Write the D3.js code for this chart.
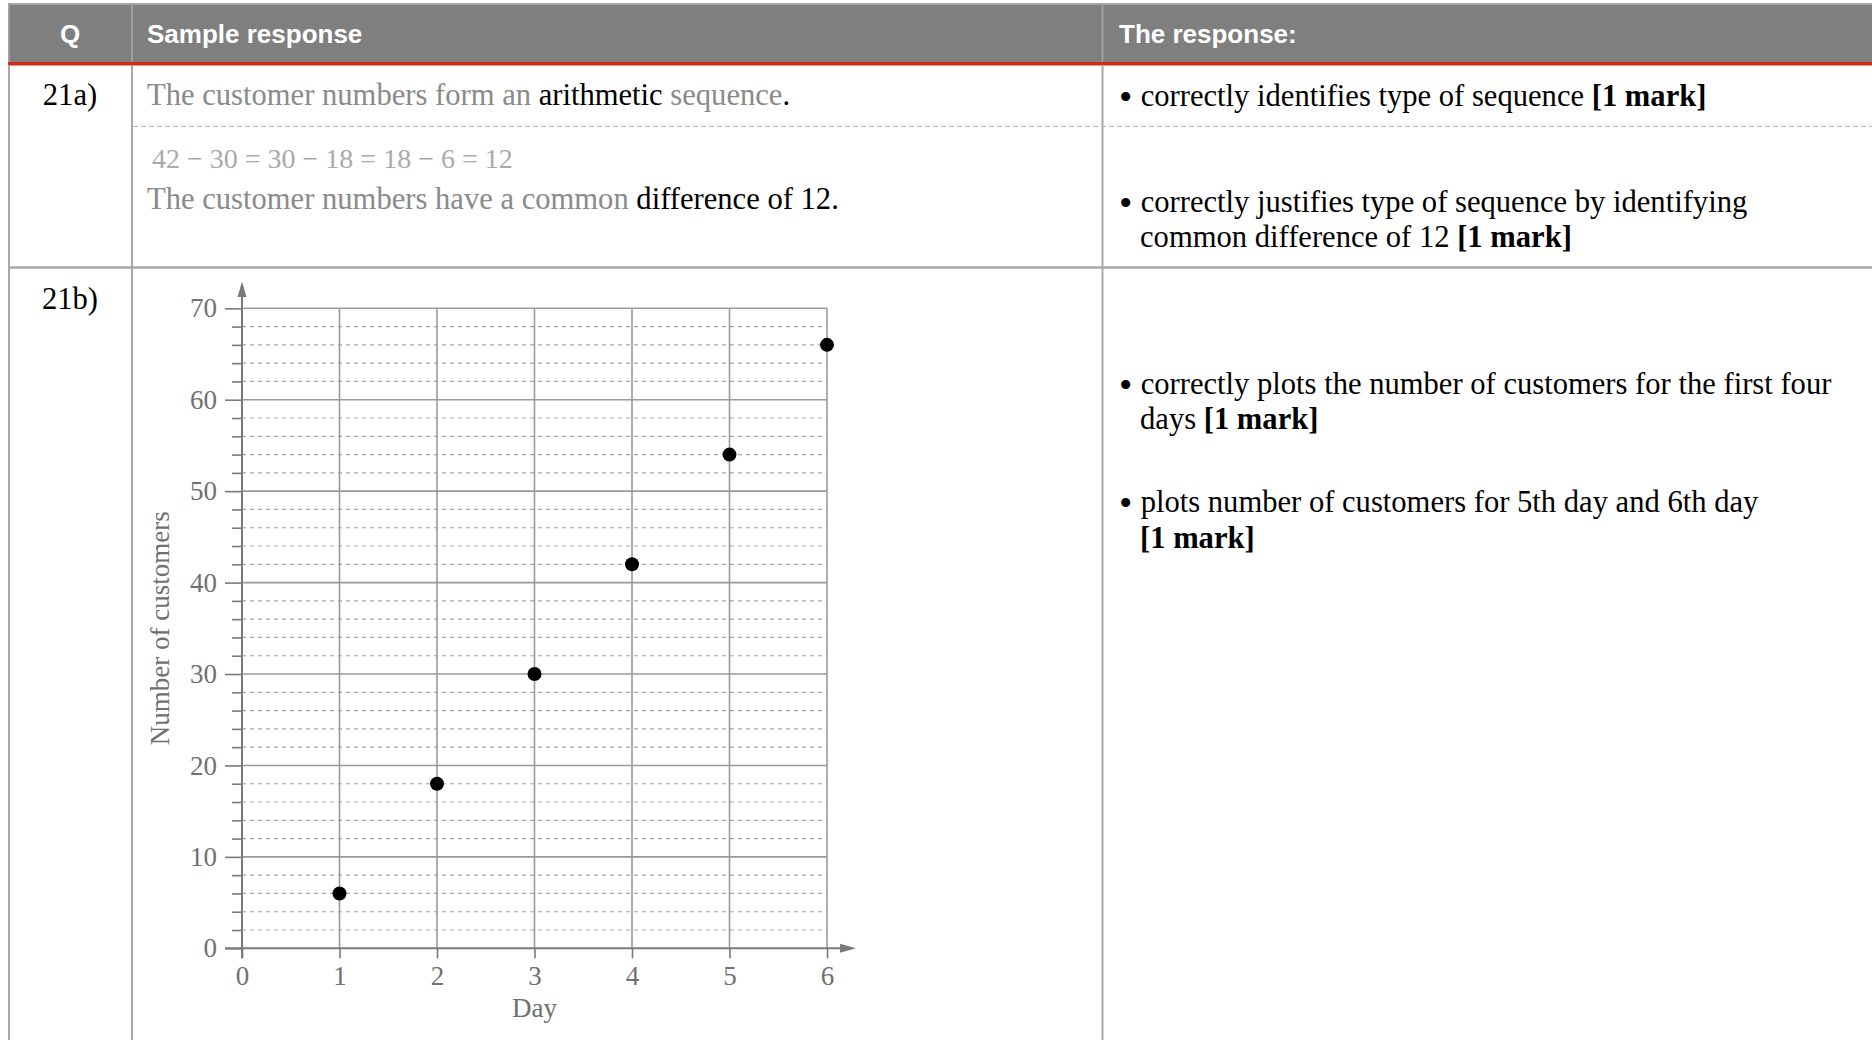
<!DOCTYPE html>
<html>
<head>
<meta charset="utf-8">
<script src="https://cdn.jsdelivr.net/npm/d3@7"></script>
<style>
  body { margin: 0; background: #fff; }
  svg { display: block; }
</style>
</head>
<body>
<script>
// data
var days = [1, 2, 3, 4, 5, 6];
var customers = [6, 18, 30, 42, 54, 66];
var xTicks = [0, 1, 2, 3, 4, 5, 6];
var yTicks = [0, 10, 20, 30, 40, 50, 60, 70];
var yMinor = [2, 4, 6, 8, 12, 14, 16, 18, 22, 24, 26, 28, 32, 34, 36, 38, 42, 44, 46, 48, 52, 54, 56, 58, 62, 64, 66, 68];
var headers = ['Q', 'Sample response', 'The response:'];

var serif = "'Liberation Serif', 'Times New Roman', serif";
var sans = "'Liberation Sans', Arial, sans-serif";
var grey = "#8a8a8a";
var line = "#a8a8a8";

var svg = d3.select("body").append("svg").attr("width", 1872).attr("height", 1040);

// ---- table frame ----
svg.append("rect").attr("x", 8).attr("y", 4).attr("width", 1864).attr("height", 58).attr("fill", "#7f7f7f");
svg.append("line").attr("x1", 8).attr("x2", 1872).attr("y1", 4).attr("y2", 4).attr("stroke", line).attr("stroke-width", 2);
svg.append("rect").attr("x", 8).attr("y", 62).attr("width", 1864).attr("height", 3.5).attr("fill", "#d3291d");

[9, 132, 1102.5].forEach(function(x) {
  svg.append("line").attr("x1", x).attr("x2", x).attr("y1", 4).attr("y2", 62)
     .attr("stroke", "#a0a0a0").attr("stroke-width", 2);
  svg.append("line").attr("x1", x).attr("x2", x).attr("y1", 65.5).attr("y2", 1040)
     .attr("stroke", line).attr("stroke-width", 2);
});
svg.append("line").attr("x1", 8).attr("x2", 1872).attr("y1", 267.5).attr("y2", 267.5)
   .attr("stroke", line).attr("stroke-width", 2.5);
svg.append("line").attr("x1", 133).attr("x2", 1872).attr("y1", 126.5).attr("y2", 126.5)
   .attr("stroke", "#b4b4b4").attr("stroke-width", 1.2).attr("stroke-dasharray", "5,3");

// header text
var hx = [70, 147, 1119];
svg.selectAll("text.head")
   .data(headers)
   .enter().append("text")
     .attr("class", "head")
     .attr("x", function(d, i) { return hx[i]; })
     .attr("y", 43)
     .attr("text-anchor", function(d, i) { return i == 0 ? "middle" : "start"; })
     .attr("font-family", sans).attr("font-weight", "bold").attr("font-size", 26)
     .attr("fill", "#fff")
     .text(function(d) { return d; });

function para(x, y, parts, size) {
  var t = svg.append("text").attr("x", x).attr("y", y)
     .attr("font-family", serif).attr("font-size", size || 30.6);
  parts.forEach(function(p) {
    t.append("tspan").attr("fill", p[1] || "#000")
     .attr("font-weight", p[2] ? "bold" : "normal")
     .text(p[0]);
  });
  return t;
}

// bullet item: bigger dot, then text
function bullet(x, y, parts) {
  var t = svg.append("text").attr("x", x).attr("y", y)
     .attr("font-family", serif).attr("font-size", 30.6);
  t.append("tspan").attr("font-size", 38).attr("dy", 4).text("\u2022");
  t.append("tspan").attr("x", x + 14).attr("dy", -4).text(" ");
  parts.forEach(function(p) {
    t.append("tspan").attr("font-weight", p[2] ? "bold" : "normal").text(p[0]);
  });
}

para(70, 105, [["21a)"]]).attr("text-anchor", "middle");
para(70, 309, [["21b)"]]).attr("text-anchor", "middle");

para(147, 105, [["The customer numbers form an ", grey], ["arithmetic"], [" sequence", grey], ["."]]);
para(152, 168, [["42 \u2212 30 = 30 \u2212 18 = 18 \u2212 6 = 12", "#aaaaaa"]], 28);
para(147, 209, [["The customer numbers have a common ", grey], ["difference of 12."]]);

bullet(1119, 106, [["correctly identifies type of sequence "], ["[1 mark]", "#000", true]]);
bullet(1119, 212, [["correctly justifies type of sequence by identifying"]]);
para(1140, 247, [["common difference of 12 "], ["[1 mark]", "#000", true]]);
bullet(1119, 394, [["correctly plots the number of customers for the first four"]]);
para(1140, 429, [["days "], ["[1 mark]", "#000", true]]);
bullet(1119, 512, [["plots number of customers for 5th day and 6th day"]]);
para(1140, 548, [["[1 mark]", "#000", true]]);

// ---- chart ----
var x = d3.scaleLinear().domain([0, 6]).range([242, 827]);
var y = d3.scaleLinear().domain([0, 70]).range([948.3, 308.3]);
var axisCol = "#7a7a7a";
var chart = svg.append("g");

// dashed minor grid
chart.selectAll("line.minor")
    .data(yMinor)
    .enter().append("line")
      .attr("class", "minor")
      .attr("x1", x(0)).attr("x2", x(6))
      .attr("y1", function(d) { return y(d); })
      .attr("y2", function(d) { return y(d); })
      .attr("stroke", "#a5a5a5").attr("stroke-width", 1.2)
      .attr("stroke-dasharray", "4,4");

// major horizontal grid
chart.selectAll("line.major")
    .data(yTicks.slice(1))
    .enter().append("line")
      .attr("class", "major")
      .attr("x1", x(0)).attr("x2", x(6))
      .attr("y1", function(d) { return y(d); })
      .attr("y2", function(d) { return y(d); })
      .attr("stroke", "#9a9a9a").attr("stroke-width", 1.6);

// vertical grid
chart.selectAll("line.vert")
    .data(xTicks.slice(1))
    .enter().append("line")
      .attr("class", "vert")
      .attr("x1", function(d) { return x(d); })
      .attr("x2", function(d) { return x(d); })
      .attr("y1", y(0)).attr("y2", y(70))
      .attr("stroke", "#9a9a9a").attr("stroke-width", 1.6);

// axes (ticks + labels)
var yAxis = d3.axisLeft(y).tickValues(yTicks).tickSize(17).tickPadding(8).tickFormat(d3.format("d"));
var yMinorAxis = d3.axisLeft(y).tickValues(yMinor).tickSize(10).tickFormat("");
var xAxis = d3.axisBottom(x).tickValues(xTicks).tickSize(10).tickPadding(8).tickFormat(d3.format("d"));

function styleAxis(g) {
  g.select(".domain").remove();
  g.selectAll("line").attr("stroke", axisCol).attr("stroke-width", 1.6);
  g.selectAll("text").attr("fill", "#707070")
   .attr("font-family", serif).attr("font-size", 27);
}

chart.append("g").attr("transform", "translate(" + x(0) + ",0)").call(yMinorAxis).call(styleAxis);
chart.append("g").attr("transform", "translate(" + x(0) + ",0)").call(yAxis).call(styleAxis);
chart.append("g").attr("transform", "translate(0," + y(0) + ")").call(xAxis).call(styleAxis);

// axis lines with arrows
chart.append("line").attr("x1", x(0)).attr("x2", x(0)).attr("y1", y(0) + 10).attr("y2", 296)
     .attr("stroke", axisCol).attr("stroke-width", 2);
chart.append("path")
     .attr("d", "M" + x(0) + ",281.5 L" + (x(0) - 4.5) + ",297 L" + (x(0) + 4.5) + ",297 Z")
     .attr("fill", axisCol);
chart.append("line").attr("x1", 225).attr("x2", 842).attr("y1", y(0)).attr("y2", y(0))
     .attr("stroke", axisCol).attr("stroke-width", 2);
chart.append("path")
     .attr("d", "M856," + y(0) + " L840," + (y(0) - 4.5) + " L840," + (y(0) + 4.5) + " Z")
     .attr("fill", axisCol);

// axis titles
chart.append("text").attr("x", x(3)).attr("y", 1017)
     .attr("text-anchor", "middle").attr("font-family", serif).attr("font-size", 27)
     .attr("fill", "#707070").text("Day");
chart.append("text")
     .attr("transform", "translate(169," + ((y(0) + y(70)) / 2) + ") rotate(-90)")
     .attr("text-anchor", "middle").attr("font-family", serif).attr("font-size", 27)
     .attr("fill", "#707070").text("Number of customers");

// points
chart.selectAll("circle.pt")
    .data(days)
    .enter().append("circle")
      .attr("class", "pt")
      .attr("cx", function(d) { return x(d); })
      .attr("cy", function(d, i) { return y(customers[i]); })
      .attr("r", 7)
      .attr("fill", "#000");
</script>
</body>
</html>
